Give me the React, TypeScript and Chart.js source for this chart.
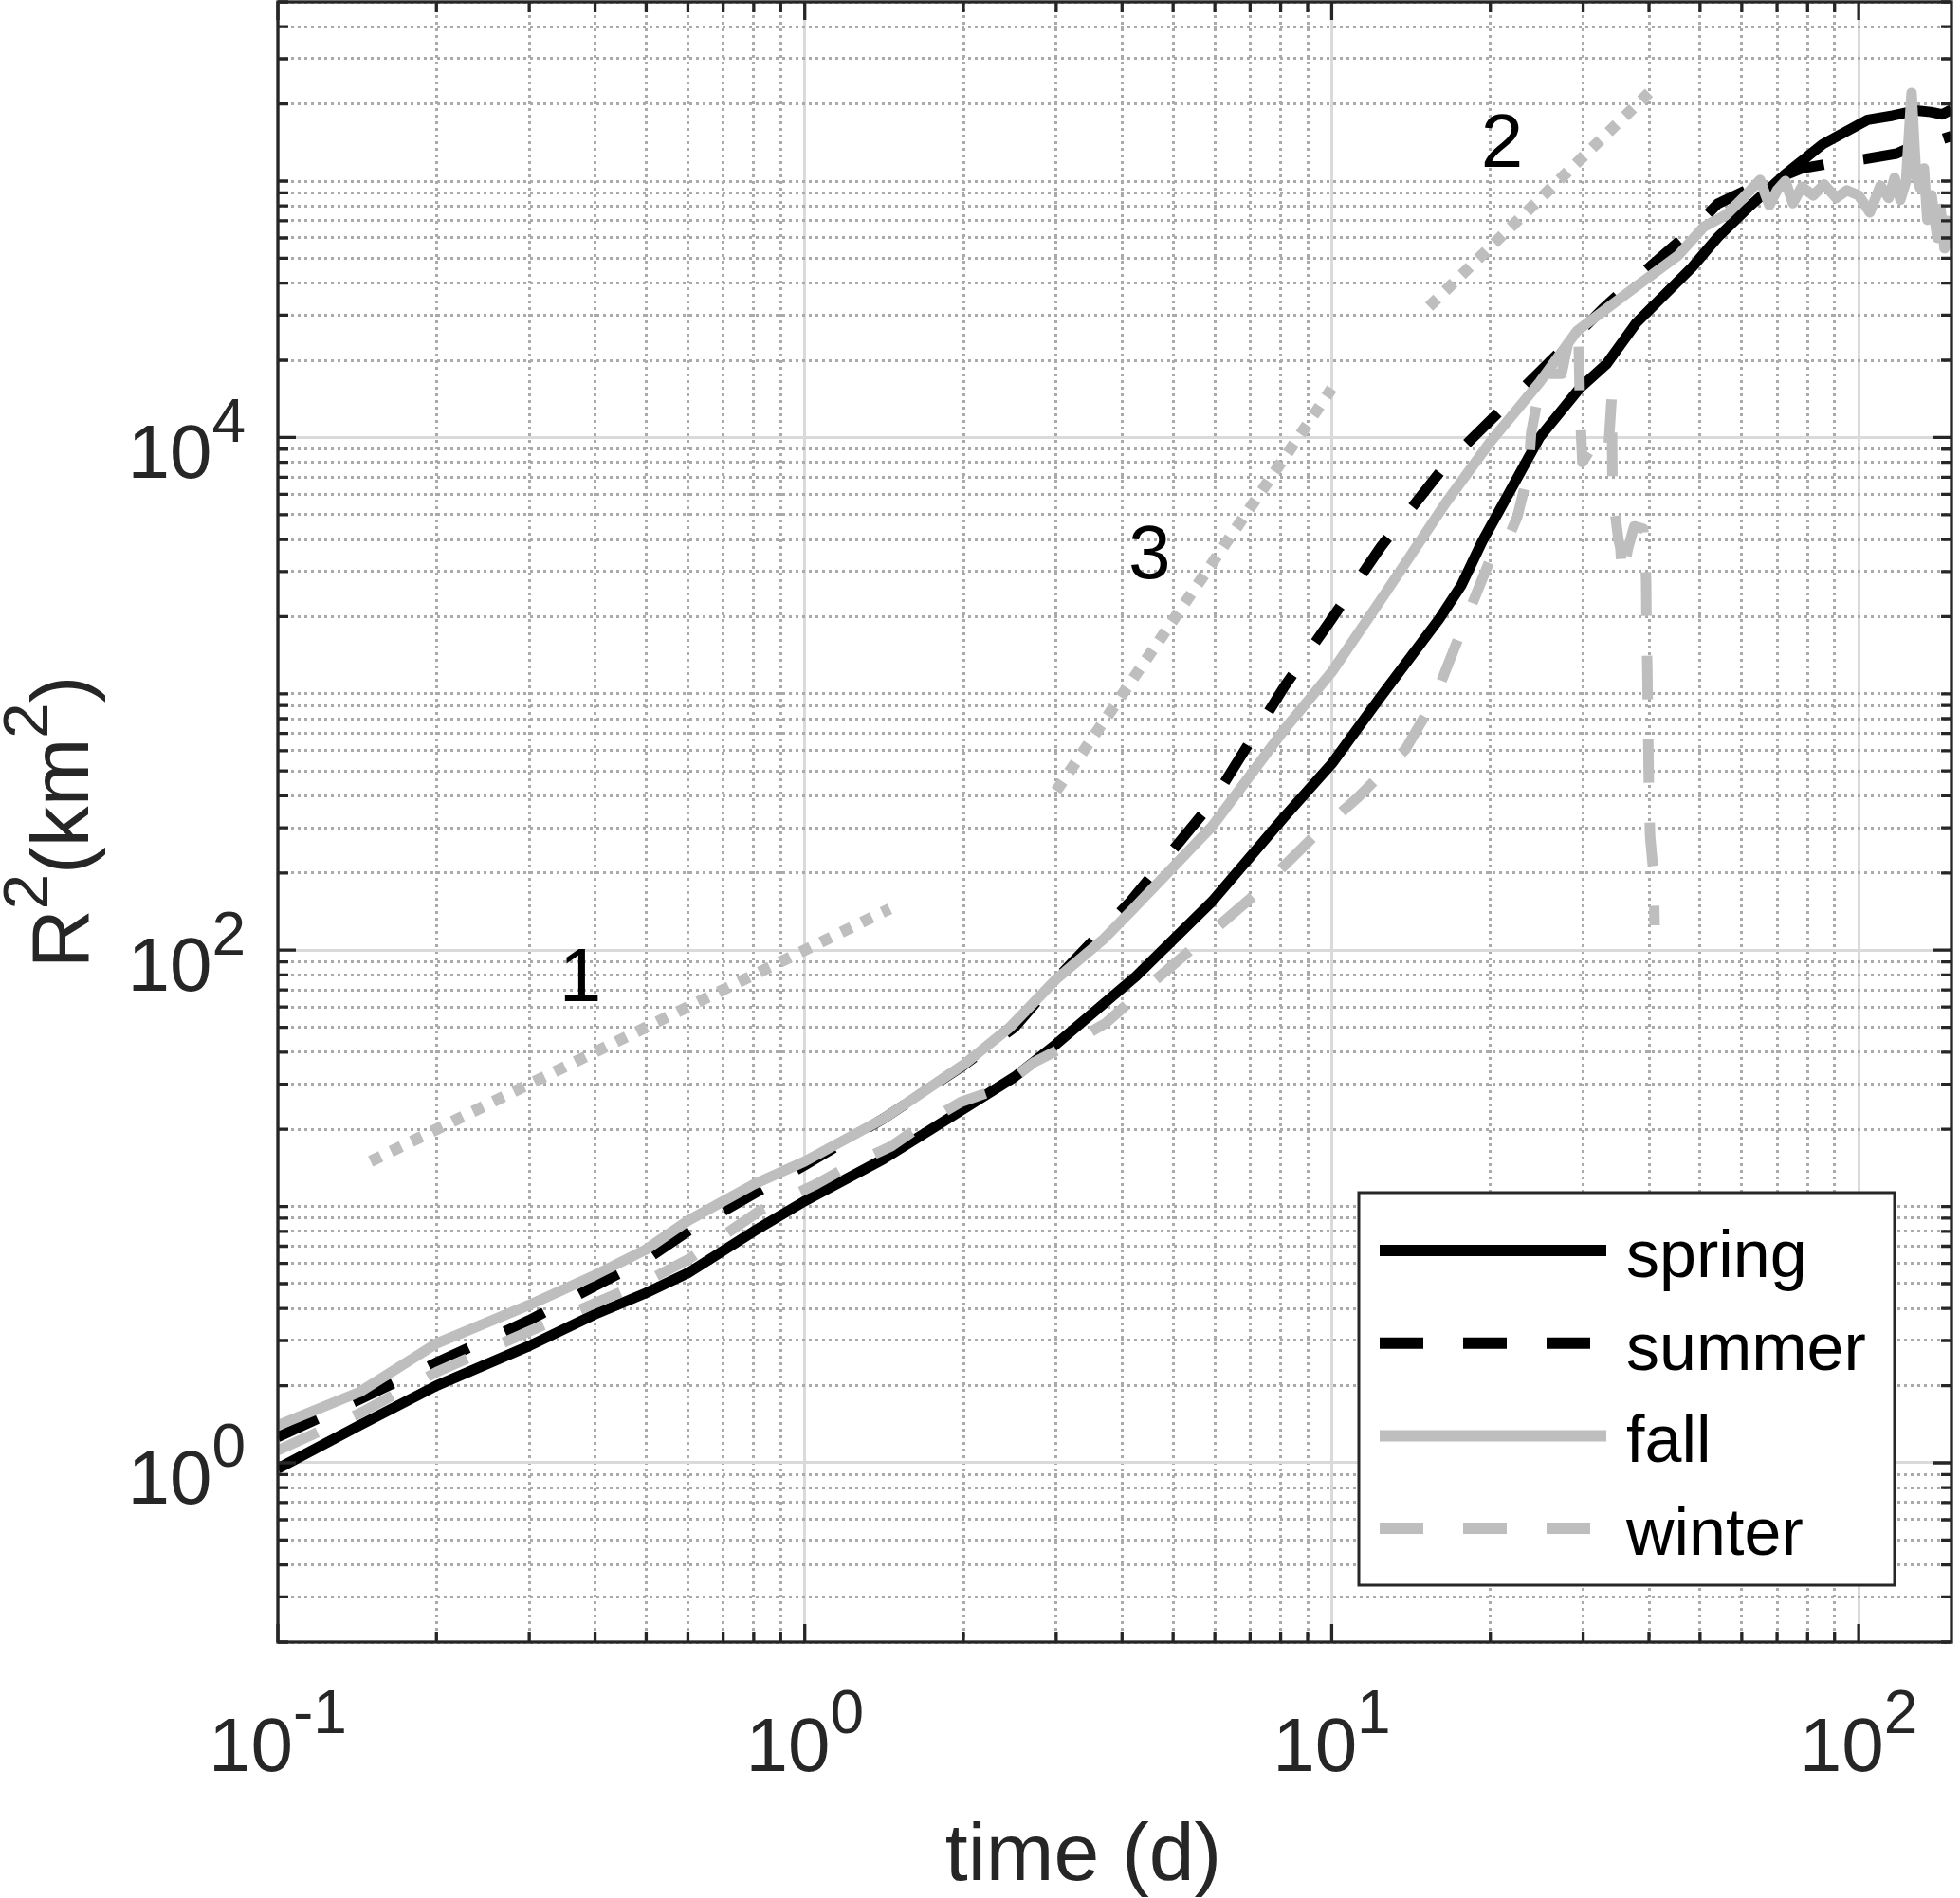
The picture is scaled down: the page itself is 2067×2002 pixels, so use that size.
import React, { useEffect, useRef } from "react";
import { Chart, registerables } from "chart.js";

Chart.register(...registerables);

// series: time (d) and R^2 (km^2)
const springT = [0.1, 0.143, 0.2, 0.3, 0.4, 0.5, 0.6, 0.8, 1.0, 1.41, 2.0, 2.5, 3.0, 4.25, 5.93, 8.13, 10, 12.4, 16, 17.6, 19.3, 22, 24.8, 29.5, 33.2, 37.8, 48.3, 54, 61.7, 72.7, 85.5, 104, 116, 128.5, 137, 144, 150];
const springR = [0.95, 1.4, 2.0, 2.86, 3.8, 4.6, 5.5, 8.0, 10.5, 15.3, 24, 32, 43, 79, 155, 331, 533, 977, 1960, 2640, 3930, 6400, 10000, 15500, 19300, 27900, 46100, 60300, 78800, 106700, 139400, 173300, 180000, 188500, 186000, 182000, 190000];

const summerT = [0.1, 0.143, 0.2, 0.3, 0.4, 0.5, 0.6, 0.8, 1.0, 1.41, 2.0, 2.5, 3.0, 4.15, 5.93, 8.13, 10, 12.4, 16.5, 22.2, 27.9, 32.7, 37.3, 48.3, 54, 61.7, 68, 78, 90, 103, 118, 125, 130, 140, 150];
const summerR = [1.26, 1.77, 2.46, 3.6, 4.9, 6.2, 8.0, 11.2, 14.5, 22, 35.5, 50, 77, 155, 377, 1067, 1960, 3750, 7880, 14400, 22900, 31800, 40600, 64500, 81500, 93000, 100000, 112000, 118000, 122000, 128000, 135000, 140000, 143000, 150000];

const fallT = [0.1, 0.143, 0.2, 0.3, 0.4, 0.5, 0.6, 0.8, 1.0, 1.41, 2.0, 2.45, 3.0, 3.7, 4.2, 5.93, 8.13, 10, 12.4, 16.5, 20, 24.8, 29.2, 37.3, 45.4, 50.8, 56.1, 61, 65, 67.7, 70, 72.6, 75, 78, 82, 86, 90.6, 95, 100, 105, 110, 114, 117, 120, 123, 126, 128.5, 131, 133, 135, 137.5, 141, 143, 145.5, 147.5, 150];
const fallR = [1.4, 1.89, 2.92, 4.13, 5.4, 6.8, 8.8, 12.2, 15.0, 22, 35.7, 50, 77, 111, 145, 304, 725, 1216, 2330, 5600, 9620, 16400, 26000, 38000, 51200, 66200, 74000, 88000, 101000, 80500, 92000, 100000, 82000, 95000, 88000, 97000, 86000, 92000, 88000, 75500, 96000, 86000, 103000, 84600, 100000, 221000, 105000, 93500, 112000, 70600, 88000, 60000, 78000, 54700, 70000, 55000];

const winterT = [0.1, 0.143, 0.2, 0.3, 0.4, 0.5, 0.6, 0.82, 1.05, 1.22, 1.46, 1.68, 1.98, 2.33, 2.72, 3.2, 3.73, 4.29, 5.33, 7.16, 9.25, 11.2, 13.8, 15.6, 17.4, 19.3, 20.4, 21.9, 22.5, 23.6, 23.9, 25.1, 27.3, 28.5, 29.4, 29.6, 29.9, 31, 32.3, 33.5, 34.0, 34.1, 34.6, 35.0, 35.3, 35.6, 36.5, 37.5, 39.0, 39.3, 39.5, 39.6, 39.7, 39.8, 39.9, 40.0, 40.2, 40.8, 41.0];
const winterR = [1.12, 1.56, 2.26, 3.26, 4.2, 5.1, 6.2, 9.6, 12.2, 14.5, 17.2, 21, 25.6, 28.7, 36.5, 43.3, 52, 67, 98, 165, 278, 393, 607, 936, 1650, 2800, 3700, 4300, 4900, 7300, 10400, 17700, 17700, 27000, 25000, 12500, 8000, 9000, 10000, 9000, 14500, 6500, 4800, 4000, 3700, 2850, 3700, 4500, 4400, 3600, 2800, 1650, 1300, 880, 600, 410, 277, 200, 125];

// slope guide lines (end points) and their labels
const guide1T = [0.15, 1.45];
const guide1R = [15, 145];
const guide2T = [15.3, 40];
const guide2R = [32400, 221000];
const guide3T = [3.0, 10];
const guide3R = [418, 15500];
const guideLabels = ["1", "2", "3"];
const guideLabelT = [0.375, 21.05, 4.51];
const guideLabelR = [63, 114100, 2830];

const legendLabels = ["spring", "summer", "fall", "winter"];
const xTickExps = [-1, 0, 1, 2];
const yTickExps = [0, 2, 4];

const X_MIN = 0.1;
const X_MAX = 150;
const Y_MIN = 0.2;
const Y_MAX = 5e5;

const FONT = '"Liberation Sans", Arial, Helvetica, sans-serif';
const AXIS = "#262626";
const GREY = "#bebebe";

const pts = (t: number[], r: number[]) => t.map((x, i) => ({ x, y: r[i] }));

const isDecade = (v: number) => Math.abs(Math.log10(v) - Math.round(Math.log10(v))) < 1e-9;
const isMajorY = (v: number) => isDecade(v) && Math.round(Math.log10(v)) % 2 === 0;

const logTicks = (min: number, max: number) => {
  const out: { value: number }[] = [];
  for (let k = Math.floor(Math.log10(min)); k <= Math.ceil(Math.log10(max)); k++) {
    for (let m = 1; m <= 9; m++) {
      const v = Number((m * Math.pow(10, k)).toPrecision(12));
      if (v >= min * (1 - 1e-9) && v <= max * (1 + 1e-9)) out.push({ value: v });
    }
  }
  return out;
};

// draws text pieces (text, size, rise) in a row, used for 10^n and R^2 style labels
const textRun = (ctx: CanvasRenderingContext2D, parts: [string, number, number][], x: number, y: number, align: string) => {
  let total = 0;
  const widths = parts.map(([t, s]) => {
    ctx.font = `${s}px ${FONT}`;
    const w = ctx.measureText(t).width;
    total += w;
    return w;
  });
  let cx = align === "center" ? x - total / 2 : align === "right" ? x - total : x;
  ctx.textAlign = "left";
  ctx.textBaseline = "alphabetic";
  parts.forEach(([t, s, rise], i) => {
    ctx.font = `${s}px ${FONT}`;
    ctx.fillText(t, cx, y - rise);
    cx += widths[i];
  });
};

const matlabAxes = {
  id: "matlabAxes",
  afterDraw(chart: any) {
    const { ctx, chartArea: a, scales } = chart;
    const xs = scales.x;
    const ys = scales.y;
    ctx.save();

    // guide labels
    ctx.fillStyle = "#000";
    guideLabels.forEach((s, i) => {
      textRun(ctx, [[s, 80, 0]], xs.getPixelForValue(guideLabelT[i]), ys.getPixelForValue(guideLabelR[i]), "center");
    });

    // inward ticks on all four sides
    ctx.strokeStyle = AXIS;
    ctx.lineWidth = 3.3;
    ctx.setLineDash([]);
    ctx.beginPath();
    xs.ticks.forEach((t: any) => {
      const px = xs.getPixelForValue(t.value);
      const len = isDecade(t.value) ? 19 : 11;
      ctx.moveTo(px, a.bottom);
      ctx.lineTo(px, a.bottom - len);
      ctx.moveTo(px, a.top);
      ctx.lineTo(px, a.top + len);
    });
    ys.ticks.forEach((t: any) => {
      const py = ys.getPixelForValue(t.value);
      const len = isMajorY(t.value) ? 19 : 11;
      ctx.moveTo(a.left, py);
      ctx.lineTo(a.left + len, py);
      ctx.moveTo(a.right, py);
      ctx.lineTo(a.right - len, py);
    });
    ctx.stroke();
    ctx.strokeRect(a.left, a.top, a.right - a.left, a.bottom - a.top);

    // legend box
    const lx = 1433, ly = 1258, lw = 565, lh = 414;
    ctx.fillStyle = "#fff";
    ctx.fillRect(lx, ly, lw, lh);
    ctx.lineWidth = 3;
    ctx.strokeStyle = AXIS;
    ctx.strokeRect(lx, ly, lw, lh);
    legendLabels.forEach((label, i) => {
      const ds = chart.data.datasets.find((d: any) => d.label === label);
      const rowY = 1319 + i * 97.7;
      ctx.save();
      ctx.strokeStyle = ds.borderColor;
      ctx.lineWidth = 12;
      ctx.lineCap = "butt";
      ctx.setLineDash(ds.borderDash || []);
      ctx.beginPath();
      ctx.moveTo(1455, rowY);
      ctx.lineTo(1694, rowY);
      ctx.stroke();
      ctx.restore();
      ctx.fillStyle = "#000";
      textRun(ctx, [[label, 70, 0]], 1715, rowY + 28, "left");
    });

    // tick labels
    ctx.fillStyle = AXIS;
    xTickExps.forEach((e) => {
      textRun(ctx, [["10", 80, 0], [String(e), 64, 40]], xs.getPixelForValue(Math.pow(10, e)), a.bottom + 136, "center");
    });
    yTickExps.forEach((e) => {
      textRun(ctx, [["10", 80, 0], [String(e), 64, 38.5]], a.left - 34, ys.getPixelForValue(Math.pow(10, e)) + 43, "right");
    });

    // axis titles
    textRun(ctx, [["time (d)", 86, 0]], (a.left + a.right) / 2 - 33, a.bottom + 251, "center");
    ctx.save();
    ctx.translate(a.left - 200, (a.top + a.bottom) / 2);
    ctx.rotate(-Math.PI / 2);
    textRun(ctx, [["R", 86, 0], ["2", 67, 43], ["(km", 86, 0], ["2", 67, 43], [")", 86, 0]], 0, 0, "center");
    ctx.restore();

    ctx.restore();
  },
};

const gridFor = (major: (v: number) => boolean) => ({
  grid: {
    drawTicks: false,
    color: (c: any) => (c.tick && major(c.tick.value) ? "#dadada" : "#aaaaaa"),
    lineWidth: (c: any) => (c.tick && major(c.tick.value) ? 3 : 3),
  },
  border: {
    display: false,
    dash: (c: any) => (c.tick && major(c.tick.value) ? [] : [3, 4]),
  },
});

const line = (label: string, t: number[], r: number[], color: string, dash: number[], order: number) => ({
  label,
  data: pts(t, r),
  borderColor: color,
  backgroundColor: color,
  borderWidth: 11,
  borderDash: dash,
  borderCapStyle: "butt",
  borderJoinStyle: "round",
  showLine: true,
  pointRadius: 0,
  tension: 0,
  clip: 0,
  order,
});

const App = () => {
  const canvasRef = useRef<HTMLCanvasElement | null>(null);

  useEffect(() => {
    document.body.style.margin = "0";
    const ctx = canvasRef.current?.getContext("2d");
    if (!ctx) return;

    const chart = new Chart(ctx, {
      type: "scatter",
      data: {
        datasets: [
          { ...line("guide1", guide1T, guide1R, GREY, [12, 12], 10), borderWidth: 12 },
          { ...line("guide2", guide2T, guide2R, GREY, [12, 12], 10), borderWidth: 12 },
          { ...line("guide3", guide3T, guide3R, GREY, [12, 12], 10), borderWidth: 12 },
          line("spring", springT, springR, "#000000", [], 4),
          line("summer", summerT, summerR, "#000000", [46, 42], 3),
          line("fall", fallT, fallR, GREY, [], 2),
          line("winter", winterT, winterR, GREY, [46, 42], 1),
        ] as any,
      },
      options: {
        animation: false,
        responsive: true,
        maintainAspectRatio: false,
        events: [],
        layout: { padding: { left: 293, right: 9, top: 2, bottom: 270 } },
        plugins: { legend: { display: false }, tooltip: { enabled: false } },
        scales: {
          x: {
            type: "logarithmic",
            min: X_MIN,
            max: X_MAX,
            ticks: { display: false },
            afterBuildTicks: (s: any) => {
              s.ticks = logTicks(X_MIN, X_MAX);
            },
            afterFit: (s: any) => {
              s.height = 0;
            },
            ...gridFor(isDecade),
          },
          y: {
            type: "logarithmic",
            min: Y_MIN,
            max: Y_MAX,
            ticks: { display: false },
            afterBuildTicks: (s: any) => {
              s.ticks = logTicks(Y_MIN, Y_MAX);
            },
            afterFit: (s: any) => {
              s.width = 0;
            },
            ...gridFor(isMajorY),
          },
        },
      } as any,
      plugins: [matlabAxes],
    });

    return () => {
      chart.destroy();
    };
  }, []);

  return (
    <div style={{ width: 2067, height: 2002, position: "relative", background: "#fff" }}>
      <canvas ref={canvasRef} style={{ width: "100%", height: "100%" }}></canvas>
    </div>
  );
};

export default App;
